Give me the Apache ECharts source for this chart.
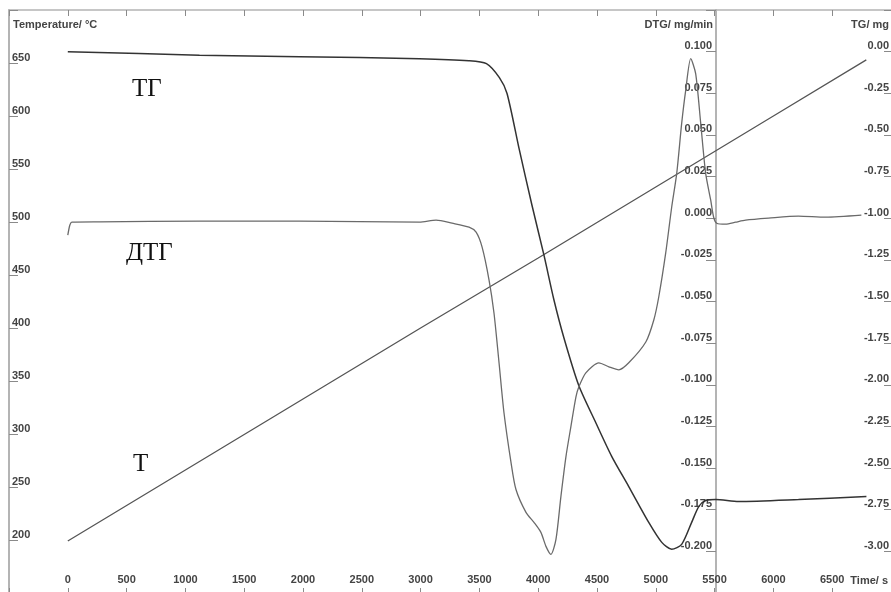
<!DOCTYPE html>
<html>
<head>
<meta charset="utf-8">
<script src="https://cdn.jsdelivr.net/npm/echarts@6/dist/echarts.min.js"></script>
<style>
  html, body { margin: 0; padding: 0; background: #fff; }
  #chart { width: 891px; height: 592px; }
</style>
</head>
<body>
<div id="chart"></div>
<script>
// Furnace temperature (linear heating ramp), °C
const tempTime   = [0, 1000, 2000, 3000, 4000, 5000, 6000, 6790];
const tempValues = [199, 266, 333, 400, 466, 533, 600, 653];

// Mass change, mg
const tgTime   = [0, 1120, 1970, 2990, 3410, 3560, 3670, 3735, 3837, 3947, 4049, 4134, 4219, 4346, 4490, 4626, 4770, 4940, 5051, 5135, 5220, 5305, 5365, 5424, 5509, 5704, 6213, 6791];
const tgValues = [0.00, -0.021, -0.030, -0.042, -0.054, -0.072, -0.156, -0.251, -0.581, -0.922, -1.222, -1.491, -1.719, -2.006, -2.228, -2.431, -2.611, -2.826, -2.946, -2.988, -2.958, -2.826, -2.731, -2.695, -2.689, -2.701, -2.689, -2.671];

// Rate of mass change, mg/min
const dtgTime   = [0, 17, 34, 272, 1120, 1970, 2990, 3132, 3268, 3412, 3472, 3523, 3582, 3624, 3667, 3709, 3769, 3811, 3896, 3964, 4023, 4066, 4108, 4151, 4193, 4236, 4278, 4321, 4346, 4405, 4516, 4601, 4686, 4770, 4915, 4983, 5025, 5084, 5135, 5178, 5220, 5254, 5297, 5339, 5382, 5424, 5467, 5492, 5518, 5594, 5679, 5764, 5959, 6213, 6443, 6748];
const dtgValues = [-0.0102, -0.0042, -0.0024, -0.0022, -0.0018, -0.0018, -0.0024, -0.0012, -0.0030, -0.0054, -0.0084, -0.0174, -0.0371, -0.0569, -0.0868, -0.1168, -0.1467, -0.1629, -0.1766, -0.1826, -0.1886, -0.1970, -0.2018, -0.1928, -0.1671, -0.1431, -0.1251, -0.1072, -0.1012, -0.0928, -0.0868, -0.0892, -0.0910, -0.0868, -0.0743, -0.0611, -0.0473, -0.0210, 0.0066, 0.0269, 0.0569, 0.0766, 0.0958, 0.0868, 0.0569, 0.0269, 0.0108, 0.0006, -0.0030, -0.0036, -0.0024, -0.0012, 0.0000, 0.0012, 0.0006, 0.0018];

// Visible tick label ranges
const timeLabelRange = [0, 6500];
const tempLabelRange = [200, 650];
const dtgLabelRange  = [-0.200, 0.100];
const tgLabelRange   = [-3.00, 0.00];

const curveNames = { tg: 'ТГ', dtg: 'ДТГ', temp: 'Т' };

const zip = (xs, ys) => xs.map((x, i) => [x, ys[i]]);
const within = (v, r) => v >= r[0] - 1e-9 && v <= r[1] + 1e-9;
const fix = (v, d) => (Math.abs(v) < 1e-9 ? 0 : v).toFixed(d);

const labelFont = { fontFamily: 'Liberation Sans, Arial, sans-serif', fontWeight: 'bold', fontSize: 11, color: '#444' };
const axisGrey = '#b4b4b4';
const tickGrey = '#8a8a8a';

const chart = echarts.init(document.getElementById('chart'), null, { renderer: 'canvas' });

chart.setOption({
  animation: false,
  backgroundColor: '#fff',
  grid: { left: 9, right: 0, top: 10, bottom: -1, containLabel: false, outerBoundsMode: 'none' },
  xAxis: [
    {
      type: 'value', position: 'bottom', min: -500, max: 7000, interval: 500,
      name: 'Time/ s', nameLocation: 'end', nameGap: -54,
      nameTextStyle: Object.assign({}, labelFont, { align: 'left', verticalAlign: 'bottom', padding: [0, 0, 7, 0] }),
      axisLine: { show: false, onZero: false },
      axisTick: { show: true, inside: true, length: 5, lineStyle: { color: tickGrey, width: 1 } },
      axisLabel: Object.assign({}, labelFont, {
        inside: true, margin: 8,
        formatter: v => within(v, timeLabelRange) ? String(v) : ''
      }),
      splitLine: { show: false }
    },
    {
      type: 'value', position: 'top', min: -500, max: 7000, interval: 500,
      axisLine: { show: true, onZero: false, lineStyle: { color: axisGrey, width: 1.5 } },
      axisTick: { show: true, inside: true, length: 6, lineStyle: { color: tickGrey, width: 1 } },
      axisLabel: { show: false },
      splitLine: { show: false }
    }
  ],
  yAxis: [
    {
      type: 'value', position: 'left', min: 150, max: 700, interval: 50,
      name: 'Temperature/ °C', nameLocation: 'end', nameGap: -15,
      nameTextStyle: Object.assign({}, labelFont, { align: 'left', verticalAlign: 'middle', padding: [0, 0, 0, 4] }),
      axisLine: { show: true, onZero: false, lineStyle: { color: axisGrey, width: 2 } },
      axisTick: { show: true, inside: true, length: 9, lineStyle: { color: tickGrey, width: 1 } },
      axisLabel: Object.assign({}, labelFont, {
        inside: true, margin: 3, verticalAlign: 'bottom',
        formatter: v => within(v, tempLabelRange) ? String(v) : ''
      }),
      splitLine: { show: false }
    },
    {
      type: 'value', position: 'right', offset: -175, min: -0.225, max: 0.125, interval: 0.025,
      name: 'DTG/ mg/min', nameLocation: 'end', nameGap: -15,
      nameTextStyle: Object.assign({}, labelFont, { align: 'right', verticalAlign: 'middle', padding: [0, 3, 0, 0] }),
      axisLine: { show: true, onZero: false, lineStyle: { color: axisGrey, width: 2 } },
      axisTick: { show: true, inside: true, length: 10, lineStyle: { color: tickGrey, width: 1 } },
      axisLabel: Object.assign({}, labelFont, {
        inside: true, margin: 4, verticalAlign: 'bottom',
        formatter: v => within(v, dtgLabelRange) ? fix(v, 3) : ''
      }),
      splitLine: { show: false }
    },
    {
      type: 'value', position: 'right', offset: 0, min: -3.25, max: 0.25, interval: 0.25,
      name: 'TG/ mg', nameLocation: 'end', nameGap: -15,
      nameTextStyle: Object.assign({}, labelFont, { align: 'right', verticalAlign: 'middle', padding: [0, 2, 0, 0] }),
      axisLine: { show: false, onZero: false },
      axisTick: { show: true, inside: true, length: 7, lineStyle: { color: tickGrey, width: 1 } },
      axisLabel: Object.assign({}, labelFont, {
        inside: true, margin: 2, verticalAlign: 'bottom',
        formatter: v => within(v, tgLabelRange) ? fix(v, 2) : ''
      }),
      splitLine: { show: false }
    }
  ],
  series: [
    {
      name: 'T', type: 'line', xAxisIndex: 0, yAxisIndex: 0,
      data: zip(tempTime, tempValues),
      showSymbol: false, silent: true,
      lineStyle: { color: '#555', width: 1.3 }
    },
    {
      name: 'TG', type: 'line', xAxisIndex: 0, yAxisIndex: 2,
      data: zip(tgTime, tgValues),
      showSymbol: false, silent: true, smooth: 0.25,
      lineStyle: { color: '#333', width: 1.5 }
    },
    {
      name: 'DTG', type: 'line', xAxisIndex: 0, yAxisIndex: 1,
      data: zip(dtgTime, dtgValues),
      showSymbol: false, silent: true, smooth: 0.25,
      lineStyle: { color: '#6a6a6a', width: 1.3 }
    }
  ],
  graphic: [
    { type: 'text', left: 132, top: 77, style: { text: curveNames.tg, font: '25px "Liberation Serif", "Times New Roman", serif', fill: '#111' } },
    { type: 'text', left: 126, top: 241, style: { text: curveNames.dtg, font: '25px "Liberation Serif", "Times New Roman", serif', fill: '#111' } },
    { type: 'text', left: 133, top: 452, style: { text: curveNames.temp, font: '25px "Liberation Serif", "Times New Roman", serif', fill: '#111' } }
  ]
});
</script>
</body>
</html>
